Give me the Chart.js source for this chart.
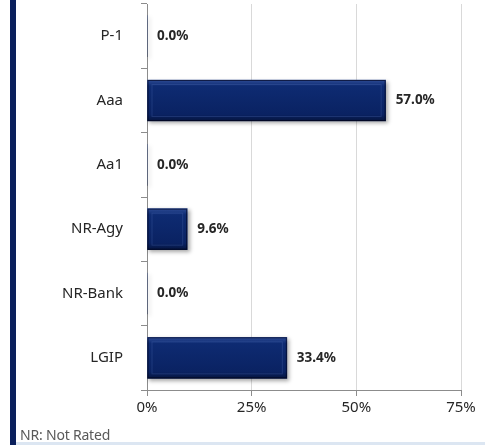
<!DOCTYPE html>
<html>
<head>
<meta charset="utf-8">
<script src="https://cdn.jsdelivr.net/npm/chart.js@4.4.0/dist/chart.umd.min.js"></script>
<style>
  html, body { margin: 0; padding: 0; background: #fff; }
  #wrap { position: relative; width: 485px; height: 445px; overflow: hidden; }
  #stripe { position: absolute; left: 10px; top: 0; width: 6px; height: 445px; background: #0a1f5c; }
  #bottom { position: absolute; left: 16px; right: 0; top: 442px; height: 3px; background: #dce6f2; }
  #note { position: absolute; left: 20px; top: 425px; font: 14px "Noto Sans", sans-serif; color: #595959; letter-spacing: -0.2px; }
  canvas { position: absolute; left: 0; top: 0; }
</style>
</head>
<body>
<div id="wrap">
  <canvas id="myChart" width="485" height="445"></canvas>
  <div id="stripe"></div>
  <div id="bottom"></div>
  <div id="note">NR: Not Rated</div>
</div>
<script>
const labels = ['P-1', 'Aaa', 'Aa1', 'NR-Agy', 'NR-Bank', 'LGIP'];
const values = [0.0, 57.0, 0.0, 9.6, 0.0, 33.4];
const xTicks = [0, 25, 50, 75];

// bar labels at the end of each bar
const valueLabels = {
  id: 'valueLabels',
  afterDatasetsDraw(chart) {
    const ctx = chart.ctx;
    const meta = chart.getDatasetMeta(0);
    ctx.save();
    ctx.font = 'bold 13.5px "Noto Sans"';
    ctx.fillStyle = '#262626';
    ctx.textBaseline = 'middle';
    meta.data.forEach((bar, i) => {
      ctx.fillText(values[i].toFixed(1) + '%', bar.x + 10, bar.y);
    });
    ctx.restore();
  }
};

// drop shadow + bevel look
const bevel = {
  id: 'bevel',
  beforeDatasetDraw(chart) {
    const ctx = chart.ctx;
    ctx.save();
    ctx.shadowColor = 'rgba(0,0,0,0.35)';
    ctx.shadowBlur = 4;
    ctx.shadowOffsetX = 2;
    ctx.shadowOffsetY = 2;
  },
  afterDatasetDraw(chart) {
    const ctx = chart.ctx;
    ctx.restore();
    const meta = chart.getDatasetMeta(0);
    ctx.save();
    meta.data.forEach((bar) => {
      const w = bar.x - bar.base;
      if (w < 2) return;
      const top = bar.y - bar.height / 2;
      const h = bar.height;
      const l = bar.base;
      ctx.strokeStyle = 'rgba(90,120,190,0.25)';
      ctx.lineWidth = 1;
      ctx.strokeRect(l + 4.5, top + 4.5, w - 9, h - 9);
      ctx.strokeStyle = 'rgba(0,0,20,0.6)';
      ctx.strokeRect(l + 0.5, top + 0.5, w - 1, h - 1);
    });
    ctx.restore();
  }
};

const data = {
  labels: labels,
  datasets: [{
    data: values,
    backgroundColor: (c) => {
      const ys = c.chart.scales && c.chart.scales.y;
      const y = ys ? ys.getPixelForValue(c.dataIndex) : NaN;
      if (!Number.isFinite(y)) return '#0c2669';
      const g = c.chart.ctx.createLinearGradient(0, y - 20, 0, y + 20);
      g.addColorStop(0, '#2a4891');
      g.addColorStop(0.14, '#0e2b72');
      g.addColorStop(0.85, '#0a2262');
      g.addColorStop(1, '#061642');
      return g;
    },
    borderWidth: 0,
    barThickness: 41,
  }]
};

const config = {
  type: 'bar',
  data: data,
  plugins: [bevel, valueLabels],
  options: {
    indexAxis: 'y',
    responsive: false,
    animation: false,
    layout: { padding: { top: 4, right: 24, left: 0, bottom: 0 } },
    plugins: {
      legend: { display: false },
      tooltip: { enabled: false }
    },
    scales: {
      y: {
        afterFit(s) { s.width = 147; s.paddingTop = 0; s.paddingBottom = 0; },
        border: { color: '#8c8c8c', width: 1 },
        grid: { drawOnChartArea: false, tickLength: 6, tickColor: '#8c8c8c', offset: true },
        ticks: {
          color: '#262626',
          font: { family: 'Noto Sans', size: 15 },
          padding: 18
        }
      },
      x: {
        min: 0,
        max: 75,
        afterFit(s) { s.height = 55; },
        afterBuildTicks(s) { s.ticks = xTicks.map(v => ({ value: v })); },
        border: { color: '#8c8c8c', width: 1 },
        grid: { color: '#d9d9d9', tickLength: 6, tickColor: '#8c8c8c' },
        ticks: {
          color: '#262626',
          font: { family: 'Noto Sans', size: 15 },
          padding: 3,
          callback: (v) => v + '%'
        }
      }
    }
  }
};

const myChart = new Chart(document.getElementById('myChart'), config);
</script>
</body>
</html>
